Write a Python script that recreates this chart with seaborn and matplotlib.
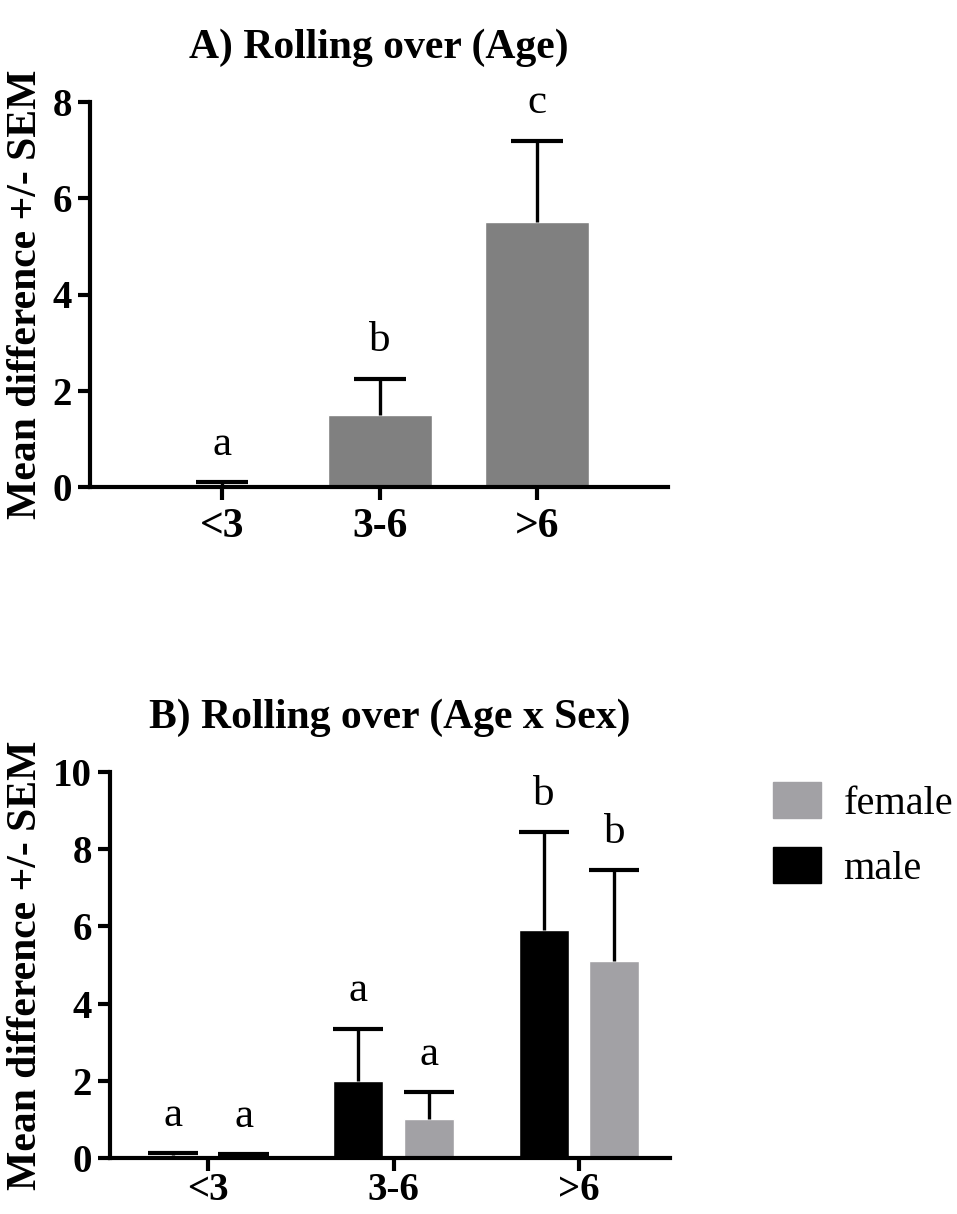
import matplotlib
matplotlib.use('Agg')
import matplotlib.pyplot as plt
import matplotlib.patches as mpatches
import numpy as np
import pandas as pd
import seaborn as sns

# data
ages = ['<3', '3-6', '>6']
age_mean = [0.05, 1.5, 5.5]
age_sem = [0.05, 0.75, 1.7]
age_letters = ['a', 'b', 'c']

sexes = ['male', 'female']
male_mean = [0.08, 2.0, 5.9]
male_sem = [0.05, 1.35, 2.55]
female_mean = [0.06, 1.0, 5.1]
female_sem = [0.05, 0.7, 2.35]
male_letters = ['a', 'a', 'b']
female_letters = ['a', 'a', 'b']

dfa = pd.DataFrame({'age': ages, 'mean': age_mean, 'sem': age_sem, 'letter': age_letters})
dfb = pd.DataFrame({
    'age': ages * 2,
    'sex': ['male'] * 3 + ['female'] * 3,
    'mean': male_mean + female_mean,
    'sem': male_sem + female_sem,
    'letter': male_letters + female_letters,
})

sns.set_style('ticks')
plt.rcParams['font.family'] = ['Liberation Serif', 'DejaVu Serif']
plt.rcParams['axes.linewidth'] = 3
for k in ['text.color', 'axes.edgecolor', 'axes.labelcolor', 'xtick.color', 'ytick.color']:
    plt.rcParams[k] = 'black'

fig = plt.figure(figsize=(9.57, 12.14), dpi=100)
W, H = 957, 1214
ax1 = fig.add_axes([90 / W, 1 - 487 / H, 578 / W, 385 / H])
ax2 = fig.add_axes([110 / W, 1 - 1158 / H, 560 / W, 386 / H])

colors = {'male': '#000000', 'female': '#a2a1a5'}
lab_fs = 30
let_fs = 31


def add_errors(ax, xs, heights, sems, bar_w, letters):
    ax.errorbar(xs, heights, yerr=[np.zeros(len(sems)), sems], fmt='none',
                ecolor='black', elinewidth=2.4, capsize=0, zorder=3)
    tops = np.array(heights) + np.array(sems)
    ax.hlines(tops, np.array(xs) - bar_w / 4, np.array(xs) + bar_w / 4,
              colors='black', lw=3, zorder=3)
    for x, t, s in zip(xs, tops, letters):
        ax.annotate(s, (x, t), xytext=(0, 27), textcoords='offset points',
                    ha='center', va='center', fontsize=let_fs)


# A) age only
sns.barplot(data=dfa, x='age', y='mean', order=ages, color='#808080',
            width=0.66, errorbar=None, saturation=1, ax=ax1)
bars = ax1.containers[0]
xs = [p.get_x() + p.get_width() / 2 for p in bars]
hs = [p.get_height() for p in bars]
add_errors(ax1, xs, hs, dfa['sem'].values, bars[0].get_width(), dfa['letter'].values)
ax1.set_xlim(-0.84, 2.83)
ax1.set_ylim(0, 8)
ax1.set_yticks([0, 2, 4, 6, 8])
ax1.set_title('A) Rolling over (Age)', fontsize=lab_fs, fontweight='bold', pad=32)

# B) age x sex
sns.barplot(data=dfb, x='age', y='mean', hue='sex', order=ages, hue_order=sexes,
            palette=colors, width=0.76, gap=0.29, errorbar=None, saturation=1,
            legend=False, ax=ax2)
for cont, sex in zip(ax2.containers, sexes):
    sub = dfb[dfb.sex == sex]
    xs = [p.get_x() + p.get_width() / 2 for p in cont]
    hs = [p.get_height() for p in cont]
    add_errors(ax2, xs, hs, sub['sem'].values, cont[0].get_width() * 2, sub['letter'].values)
ax2.set_xlim(-0.53, 2.49)
ax2.set_ylim(0, 10)
ax2.set_yticks([0, 2, 4, 6, 8, 10])
ax2.set_title('B) Rolling over (Age x Sex)', fontsize=lab_fs, fontweight='bold', pad=32)

for ax, xl, xpad, xsize in [(ax1, -0.078, 6, 30), (ax2, -0.116, 1, 28)]:
    sns.despine(ax=ax)
    ax.set_xlabel('')
    ax.set_ylabel('Mean difference +/- SEM', fontsize=lab_fs, fontweight='bold')
    ax.yaxis.set_label_coords(xl, 0.5)
    ax.tick_params(axis='both', length=9, width=3, direction='out')
    ax.tick_params(axis='y', pad=4, labelsize=28)
    ax.tick_params(axis='x', pad=xpad, labelsize=xsize)
    for t in ax.get_xticklabels() + ax.get_yticklabels():
        t.set_fontweight('bold')

handles = [mpatches.Patch(facecolor=colors['female'], edgecolor=colors['female'], label='female'),
           mpatches.Patch(facecolor=colors['male'], edgecolor=colors['male'], label='male')]
fig.legend(handles=handles, loc='upper left', bbox_to_anchor=(773 / W, 1 - 782 / H),
           frameon=False, fontsize=29, handlelength=1.2, handleheight=1.0,
           handletextpad=0.55, labelspacing=0.6, borderpad=0, borderaxespad=0)

fig.savefig('out.png', dpi=100)
